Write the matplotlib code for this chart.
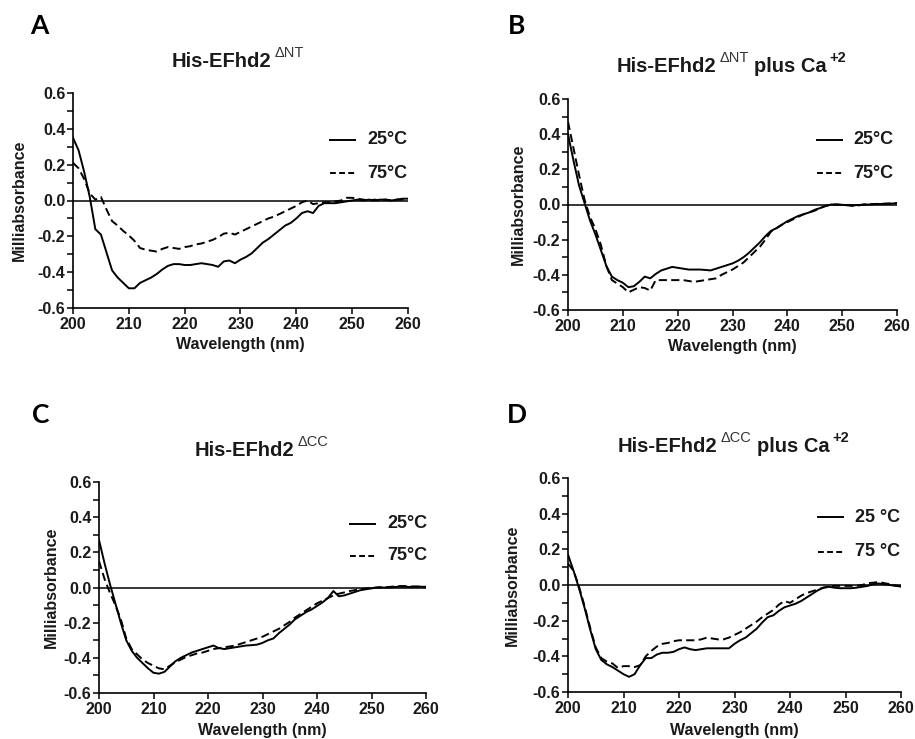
import numpy as np
import matplotlib
matplotlib.use("Agg")
import matplotlib.pyplot as plt
from matplotlib.lines import Line2D
from matplotlib.ticker import MultipleLocator, FuncFormatter

# ---------------- data (1 nm steps 200..260) ----------------
wavelength = np.arange(200, 261)

a_25 = [0.35, 0.28, 0.16, 0.02, -0.16, -0.19, -0.29, -0.39, -0.43, -0.46,
        -0.49, -0.49, -0.46, -0.445, -0.43, -0.41, -0.385, -0.365, -0.355, -0.355,
        -0.36, -0.36, -0.355, -0.35, -0.355, -0.36, -0.37, -0.34, -0.335, -0.35,
        -0.33, -0.315, -0.295, -0.265, -0.235, -0.215, -0.19, -0.165, -0.14, -0.125,
        -0.10, -0.07, -0.06, -0.07, -0.03, -0.015, -0.015, -0.015, -0.01, -0.005,
        0.0, 0.005, 0.0, 0.005, 0.0, 0.005, 0.005, 0.0, 0.005, 0.01, 0.01]
a_75 = [0.21, 0.18, 0.12, 0.04, 0.005, 0.02, -0.05, -0.115, -0.14, -0.17,
        -0.195, -0.225, -0.265, -0.275, -0.28, -0.285, -0.27, -0.26, -0.265, -0.27,
        -0.26, -0.255, -0.245, -0.24, -0.23, -0.22, -0.205, -0.185, -0.18, -0.19,
        -0.175, -0.16, -0.145, -0.13, -0.115, -0.10, -0.09, -0.075, -0.06, -0.045,
        -0.03, -0.01, 0.0, -0.02, -0.015, -0.01, -0.01, -0.005, 0.0, 0.015,
        0.015, 0.01, 0.005, 0.0, 0.005, 0.0, 0.005, 0.0, 0.005, 0.005, 0.01]

b_25 = [0.40, 0.25, 0.11, 0.01, -0.09, -0.17, -0.26, -0.35, -0.41, -0.43,
        -0.445, -0.47, -0.465, -0.44, -0.41, -0.42, -0.395, -0.375, -0.365, -0.355,
        -0.36, -0.365, -0.37, -0.37, -0.37, -0.372, -0.375, -0.365, -0.355, -0.345,
        -0.335, -0.32, -0.30, -0.275, -0.245, -0.215, -0.18, -0.15, -0.135, -0.115,
        -0.095, -0.08, -0.065, -0.055, -0.045, -0.03, -0.02, -0.008, 0.0, 0.0,
        -0.002, -0.003, -0.005, -0.003, 0.0, 0.0, 0.002, 0.003, 0.004, 0.005, 0.008]
b_75 = [0.47, 0.32, 0.17, 0.03, -0.07, -0.14, -0.23, -0.35, -0.43, -0.45,
        -0.47, -0.50, -0.485, -0.47, -0.475, -0.49, -0.43, -0.43, -0.43, -0.43,
        -0.43, -0.43, -0.435, -0.44, -0.435, -0.43, -0.425, -0.42, -0.40, -0.385,
        -0.37, -0.35, -0.33, -0.30, -0.27, -0.24, -0.20, -0.155, -0.135, -0.115,
        -0.10, -0.085, -0.07, -0.055, -0.045, -0.035, -0.02, -0.008, -0.002, 0.0,
        -0.002, -0.005, -0.008, -0.005, 0.0, 0.002, 0.003, 0.004, 0.005, 0.006, 0.008]

c_25 = [0.27, 0.14, 0.02, -0.09, -0.20, -0.30, -0.36, -0.40, -0.43, -0.46,
        -0.485, -0.49, -0.48, -0.45, -0.42, -0.40, -0.385, -0.37, -0.36, -0.35,
        -0.34, -0.33, -0.345, -0.35, -0.345, -0.34, -0.335, -0.33, -0.328, -0.325,
        -0.315, -0.30, -0.29, -0.26, -0.235, -0.21, -0.18, -0.16, -0.14, -0.125,
        -0.105, -0.085, -0.06, -0.02, -0.05, -0.045, -0.035, -0.025, -0.015, -0.01,
        -0.005, 0.0, 0.0, 0.0, 0.002, 0.005, 0.005, 0.003, 0.005, 0.005, 0.002]
c_75 = [0.15, 0.05, -0.03, -0.10, -0.18, -0.29, -0.35, -0.38, -0.41, -0.43,
        -0.445, -0.46, -0.465, -0.445, -0.425, -0.41, -0.395, -0.385, -0.375, -0.37,
        -0.36, -0.35, -0.345, -0.34, -0.335, -0.33, -0.32, -0.31, -0.30, -0.29,
        -0.28, -0.265, -0.25, -0.235, -0.215, -0.195, -0.17, -0.15, -0.13, -0.11,
        -0.09, -0.075, -0.06, -0.045, -0.035, -0.028, -0.02, -0.015, -0.01, -0.005,
        -0.003, 0.0, 0.002, 0.003, 0.005, 0.008, 0.008, 0.006, 0.005, 0.005, 0.004]

d_25 = [0.17, 0.08, -0.02, -0.13, -0.25, -0.36, -0.42, -0.445, -0.46, -0.48,
        -0.50, -0.515, -0.50, -0.45, -0.41, -0.41, -0.39, -0.38, -0.38, -0.375,
        -0.36, -0.35, -0.36, -0.365, -0.36, -0.355, -0.355, -0.355, -0.355, -0.355,
        -0.33, -0.31, -0.295, -0.27, -0.245, -0.21, -0.18, -0.17, -0.145, -0.125,
        -0.115, -0.105, -0.09, -0.07, -0.05, -0.03, -0.015, -0.01, -0.015, -0.018,
        -0.018, -0.018, -0.015, -0.01, -0.005, 0.005, 0.008, 0.005, 0.0, -0.005, -0.008]
d_75 = [0.12, 0.08, -0.01, -0.12, -0.24, -0.35, -0.41, -0.43, -0.44, -0.465,
        -0.455, -0.455, -0.46, -0.45, -0.40, -0.37, -0.345, -0.33, -0.325, -0.315,
        -0.31, -0.31, -0.31, -0.31, -0.305, -0.295, -0.30, -0.305, -0.305, -0.295,
        -0.28, -0.265, -0.245, -0.225, -0.205, -0.18, -0.16, -0.14, -0.11, -0.09,
        -0.10, -0.08, -0.06, -0.045, -0.035, -0.025, -0.015, -0.01, -0.005, -0.005,
        -0.005, -0.005, -0.005, 0.0, 0.01, 0.013, 0.017, 0.01, 0.005, -0.003, -0.008]

panel_letters = ["A", "B", "C", "D"]
title_main = ["His-EFhd2", "His-EFhd2", "His-EFhd2", "His-EFhd2"]
title_sup = ["\u0394NT", "\u0394NT", "\u0394CC", "\u0394CC"]
title_extra = [None, "plus Ca", None, "plus Ca"]
legend_labels = [["25\u00b0C", "75\u00b0C"], ["25\u00b0C", "75\u00b0C"],
                 ["25\u00b0C", "75\u00b0C"], ["25 \u00b0C", "75 \u00b0C"]]
series = [(a_25, a_75), (b_25, b_75), (c_25, c_75), (d_25, d_75)]
x_label = "Wavelength (nm)"
y_label = "Milliabsorbance"
y_ticks = [-0.6, -0.4, -0.2, 0.0, 0.2, 0.4, 0.6]
x_ticks = [200, 210, 220, 230, 240, 250, 260]

# ---------------- layout (pixel geometry of the reference) ----------------
W, H = 915, 739
plt.rcParams["font.family"] = ["Liberation Sans", "DejaVu Sans"]
plt.rcParams["axes.unicode_minus"] = False
TXT = "#1a1a1a"

fig = plt.figure(figsize=(W / 100, H / 100), dpi=100, facecolor="white")
ov = fig.add_axes([0, 0, 1, 1])
ov.set_xlim(0, 1)
ov.set_ylim(0, 1)
ov.axis("off")


def fx(x):
    return x / W


def fy(y):
    return 1 - y / H


# axes boxes: left, top, right, bottom in px
boxes = [(73, 93, 408, 308), (568, 99, 897, 310), (99, 482, 426, 693), (568, 478, 901, 692)]
letter_pos = [(30, 34), (508, 34), (32, 423), (507, 423)]
title_pos = [(172, 67), (617, 72), (195, 456), (618, 452)]
legend_pos = [(330, 367, 140, 173), (817, 853, 140, 173), (350, 387, 524, 556), (818, 855, 517, 552)]
ylabel_x = [19, 518, 51, 512]
xlabel_y = [344, 346, 731, 730]

DASH = (0, (4.2, 2.2))
LEG_DASH = (0, (3.0, 1.7))

for i in range(4):
    l, t, r, b = boxes[i]
    ax = fig.add_axes([fx(l), fy(b), fx(r) - fx(l), fy(t) - fy(b)])
    y25, y75 = series[i]
    ax.plot(wavelength, y25, color="black", lw=1.4)
    ax.plot(wavelength, y75, color="black", lw=1.4, linestyle=DASH)
    ax.axhline(0, color="black", lw=1.1)
    ax.set_xlim(200, 260)
    ax.set_ylim(-0.6, 0.6)
    for s in ["top", "right"]:
        ax.spines[s].set_visible(False)
    for s in ["left", "bottom"]:
        ax.spines[s].set_linewidth(1.2)
        ax.spines[s].set_color("black")
    ax.set_xticks(x_ticks)
    ax.set_yticks(y_ticks)
    ax.yaxis.set_minor_locator(MultipleLocator(0.1))
    ax.yaxis.set_major_formatter(FuncFormatter(lambda v, p: f"{0.0 if abs(v) < 1e-9 else v:.1f}"))
    ax.tick_params(which="both", direction="out", length=4.5, width=1.1,
                   labelsize=11.5, colors="black", labelcolor=TXT)
    ax.tick_params(axis="y", pad=1)
    ax.tick_params(axis="x", pad=2)
    for lab in ax.get_xticklabels() + ax.get_yticklabels():
        lab.set_fontweight("bold")
    ax.patch.set_alpha(0)

    # axis labels
    ov.text(fx(ylabel_x[i]), fy((t + b) / 2), y_label, rotation=90, ha="center", va="center",
            fontsize=11.5, fontweight="bold", color=TXT)
    ov.text(fx((l + r) / 2), fy(xlabel_y[i]), x_label, ha="center", va="center",
            fontsize=11.5, fontweight="bold", color=TXT)

    # panel letter
    lx, ly = letter_pos[i]
    ov.text(fx(lx), fy(ly), panel_letters[i], ha="left", va="baseline",
            fontsize=19, fontweight="bold", family=["Lato", "DejaVu Sans"], color="black")

    # title with superscripts
    tx, ty = title_pos[i]
    main = ov.text(fx(tx), fy(ty), title_main[i], ha="left", va="baseline",
                   fontsize=14.5, fontweight="bold", color=TXT)
    sup = ov.annotate(title_sup[i], xy=(1, 1), xycoords=main, xytext=(2, 4),
                      textcoords="offset points", ha="left", va="top",
                      fontsize=10.5, color="#333333")
    if title_extra[i]:
        extra = ov.annotate(title_extra[i], xy=(1, 0), xycoords=(sup, main), xytext=(4, 0),
                            textcoords="offset points", ha="left", va="bottom",
                            fontsize=14.5, fontweight="bold", color=TXT)
        ov.annotate("+2", xy=(1, 1), xycoords=extra, xytext=(2, 4),
                    textcoords="offset points", ha="left", va="top",
                    fontsize=10.5, fontweight="bold", color=TXT)

    # legend
    x1, xt, y1, y2 = legend_pos[i]
    ov.add_line(Line2D([fx(x1), fx(x1 + 25)], [fy(y1), fy(y1)], color="black", lw=1.4))
    ov.add_line(Line2D([fx(x1), fx(x1 + 25)], [fy(y2), fy(y2)], color="black", lw=1.4,
                       linestyle=LEG_DASH))
    ov.text(fx(xt), fy(y1), legend_labels[i][0], ha="left", va="center",
            fontsize=13, fontweight="bold", color=TXT)
    ov.text(fx(xt), fy(y2), legend_labels[i][1], ha="left", va="center",
            fontsize=13, fontweight="bold", color=TXT)

fig.savefig("out.png", dpi=100, facecolor="white")
